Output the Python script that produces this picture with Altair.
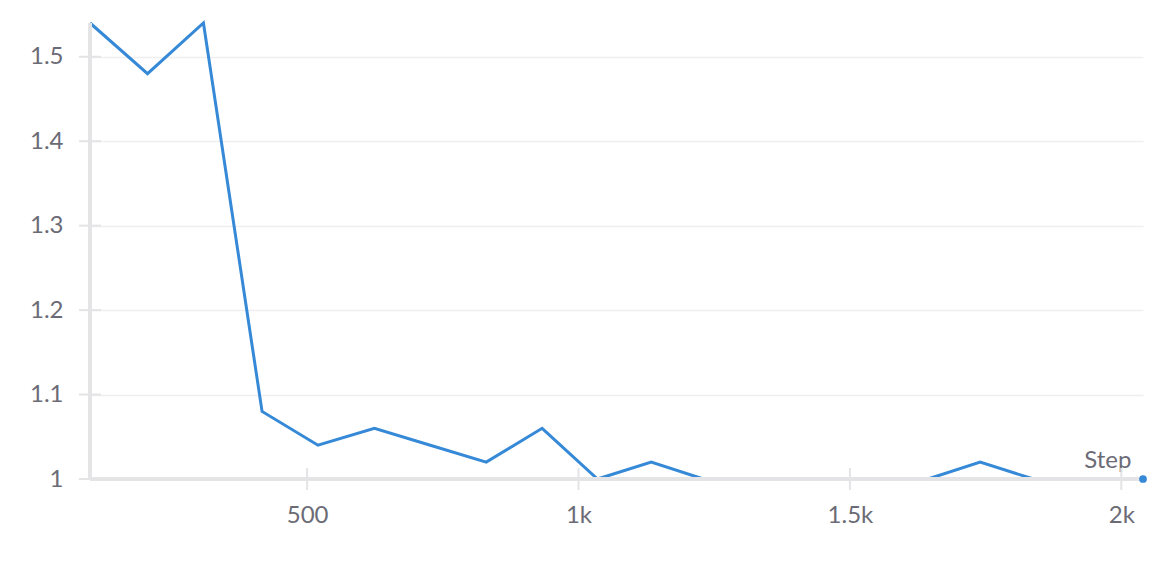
import altair as alt
import pandas as pd

steps = [100, 206, 309, 417, 520, 624, 727, 830, 933, 1035, 1134, 1230, 1333, 1436, 1540, 1644, 1740, 1838, 1940, 2040]
loss = [1.54, 1.48, 1.54, 1.08, 1.04, 1.06, 1.04, 1.02, 1.06, 1.00, 1.02, 1.00, 1.00, 1.00, 1.00, 1.00, 1.02, 1.00, 1.00, 1.00]
y_ticks = [1.0, 1.1, 1.2, 1.3, 1.4, 1.5]
x_ticks = [500, 1000, 1500, 2000]

W, H = 1053, 456
LINE = "#3589d6"
AX = "#e4e4e6"
TXT = "#6b6b76"
FONT = "Lato"
FS = 24

df = pd.DataFrame({"step": steps, "loss": loss})
ydf = pd.DataFrame({"v": y_ticks})
xdf = pd.DataFrame({"v": x_ticks})
last = pd.DataFrame({"step": [steps[-1]], "loss": [loss[-1]]})

xs = alt.Scale(domain=[min(steps), max(steps)], nice=False, zero=False)
ys = alt.Scale(domain=[min(y_ticks), max(loss)], nice=False, zero=False)

xaxis = alt.Axis(values=x_ticks, labelExpr="datum.value >= 1000 ? format(datum.value/1000, '~g') + 'k' : format(datum.value, 'd')",
                 grid=False, domain=False, ticks=False, labelPadding=24,
                 labelFont=FONT, labelFontSize=FS, labelColor=TXT,
                 title="Step", titleX=W - 12, titleY=-12, titleAlign="right", titleBaseline="alphabetic",
                 titleFont=FONT, titleFontSize=FS, titleFontWeight="normal", titleColor=TXT)
yaxis = alt.Axis(values=y_ticks, labelExpr="format(datum.value, '~g')",
                 grid=True, gridColor="#efeff1", gridWidth=1.5, domain=False, ticks=False, labelPadding=27,
                 labelFont=FONT, labelFontSize=FS, labelColor=TXT, title=None)

line = alt.Chart(df).mark_line(color=LINE, strokeWidth=3).encode(
    x=alt.X("step:Q", scale=xs, axis=xaxis),
    y=alt.Y("loss:Q", scale=ys, axis=yaxis),
)

xline = alt.Chart(df).mark_rule(color=AX, strokeWidth=3.5).encode(
    x=alt.datum(min(steps), scale=xs), x2=alt.datum(max(steps)), y=alt.datum(min(y_ticks), scale=ys))
yline = alt.Chart(df).mark_rule(color=AX, strokeWidth=3.5).encode(
    x=alt.datum(min(steps), scale=xs), y=alt.datum(min(y_ticks), scale=ys), y2=alt.datum(max(loss)))

ytk = alt.Chart(ydf).mark_rule(color=AX, strokeWidth=2).encode(
    y=alt.Y("v:Q", scale=ys), x=alt.value(-11), x2=alt.value(11))
xtk = alt.Chart(xdf).mark_rule(color=AX, strokeWidth=2).encode(
    x=alt.X("v:Q", scale=xs), y=alt.value(H - 11), y2=alt.value(H + 11))

dot = alt.Chart(last).mark_circle(color=LINE, size=60, opacity=1).encode(
    x=alt.X("step:Q", scale=xs), y=alt.Y("loss:Q", scale=ys))

chart = alt.layer(line, ytk, xtk, xline, yline, dot).properties(
    width=W, height=H,
    view=alt.ViewBackground(strokeWidth=0, strokeOpacity=0),
    autosize=alt.AutoSizeParams(type="none"),
    padding={"left": 82, "top": 15, "right": 12, "bottom": 60},
).configure(background="white").configure_view(strokeWidth=0, strokeOpacity=0)

chart.save("out.html", embed_options={"renderer": "svg", "actions": False})
